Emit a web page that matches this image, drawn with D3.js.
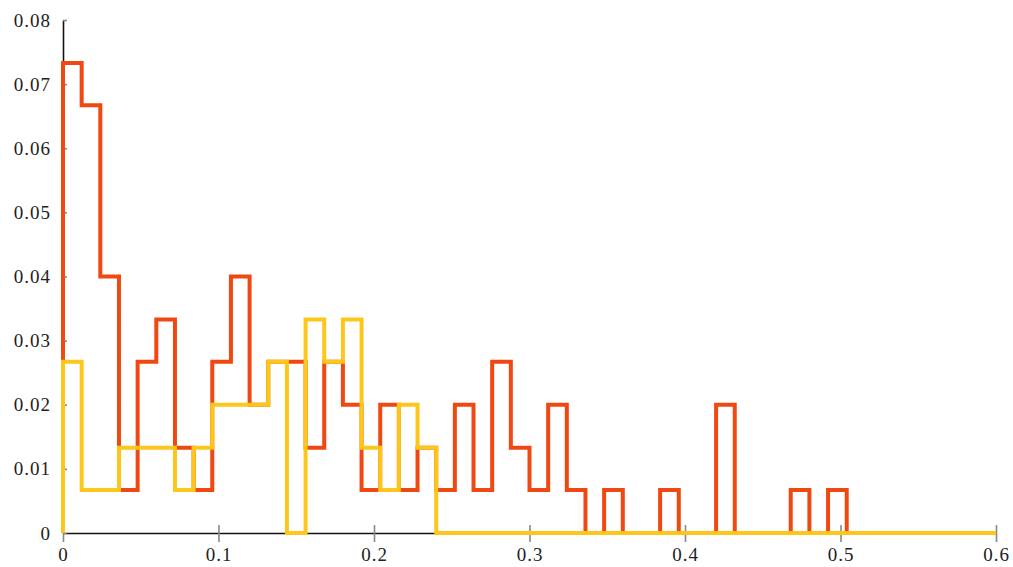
<!DOCTYPE html>
<html>
<head>
<meta charset="utf-8">
<script src="https://cdn.jsdelivr.net/npm/d3@7"></script>
<style>
  html, body { margin: 0; padding: 0; background: #fff; }
  svg { display: block; }
  .tick text { font-family: "Liberation Serif", serif; font-size: 19px; fill: #222; letter-spacing: 1px; }
</style>
</head>
<body>
<svg id="chart" width="1013" height="567"></svg>
<script>
// Histogram bins: width 0.012 from 0 to 0.6 (50 bins)
const binWidth = 0.012;
const xDomain = [0, 0.6];
const yDomain = [0, 0.08];
const xTicks = [0, 0.1, 0.2, 0.3, 0.4, 0.5, 0.6];
const xTickLabels = ["0", "0.1", "0.2", "0.3", "0.4", "0.5", "0.6"];
const yTicks = [0, 0.01, 0.02, 0.03, 0.04, 0.05, 0.06, 0.07, 0.08];
const yTickLabels = ["0", "0.01", "0.02", "0.03", "0.04", "0.05", "0.06", "0.07", "0.08"];

const redSeries = [
  0.0733, 0.0667, 0.0400, 0.0067, 0.0267, 0.0333, 0.0133, 0.0067, 0.0267, 0.0400,
  0.0200, 0.0267, 0.0267, 0.0133, 0.0267, 0.0200, 0.0067, 0.0200, 0.0067, 0.0133,
  0.0067, 0.0200, 0.0067, 0.0267, 0.0133, 0.0067, 0.0200, 0.0067, 0.0000, 0.0067,
  0.0000, 0.0000, 0.0067, 0.0000, 0.0000, 0.0200, 0.0000, 0.0000, 0.0000, 0.0067,
  0.0000, 0.0067, 0.0000, 0.0000, 0.0000, 0.0000, 0.0000, 0.0000, 0.0000, 0.0000
];
const yellowSeries = [
  0.0267, 0.0067, 0.0067, 0.0133, 0.0133, 0.0133, 0.0067, 0.0133, 0.0200, 0.0200,
  0.0200, 0.0267, 0.0000, 0.0333, 0.0267, 0.0333, 0.0133, 0.0067, 0.0200, 0.0133,
  0.0000, 0.0000, 0.0000, 0.0000, 0.0000, 0.0000, 0.0000, 0.0000, 0.0000, 0.0000,
  0.0000, 0.0000, 0.0000, 0.0000, 0.0000, 0.0000, 0.0000, 0.0000, 0.0000, 0.0000,
  0.0000, 0.0000, 0.0000, 0.0000, 0.0000, 0.0000, 0.0000, 0.0000, 0.0000, 0.0000
];

const margin = { left: 63, right: 17, top: 20, bottom: 34 };
const W = 1013, H = 567;
const svg = d3.select("#chart");

const x = d3.scaleLinear().domain(xDomain).range([margin.left, W - margin.right]);
const y = d3.scaleLinear().domain(yDomain).range([H - margin.bottom, margin.top]);

// axes
const xAxis = d3.axisBottom(x).tickValues(xTicks)
  .tickFormat((d, i) => xTickLabels[i]).tickSizeInner(9).tickSizeOuter(0).tickPadding(9);
const yAxis = d3.axisLeft(y).tickValues(yTicks)
  .tickFormat((d, i) => yTickLabels[i]).tickSizeInner(5).tickSizeOuter(0).tickPadding(8);

const gx = svg.append("g").attr("transform", `translate(0,${y(0)})`).call(xAxis);
gx.select(".domain").attr("stroke", "#111").attr("stroke-width", 1.6);
gx.selectAll(".tick line").attr("stroke", "#888").attr("stroke-width", 1.6).attr("y1", d => d === 0 ? 0 : -8);
gx.selectAll(".tick text").attr("dy", "0.55em");

const gy = svg.append("g").attr("transform", `translate(${x(0)},0)`).call(yAxis);
gy.select(".domain").attr("stroke", "#111").attr("stroke-width", 1.6);
gy.selectAll(".tick line").attr("stroke", "#888").attr("stroke-width", 1.6).attr("x2", 4);
gy.selectAll(".tick text").attr("x", -12);

function stepPoints(vals) {
  const pts = [[0, 0]];
  vals.forEach((v, i) => pts.push([i * binWidth, v]));
  pts.push([vals.length * binWidth, vals[vals.length - 1]]);
  pts.push([vals.length * binWidth, 0]);
  return pts;
}

const line = d3.line().x(d => x(d[0])).y(d => y(d[1])).curve(d3.curveStepAfter);

svg.append("path").datum(stepPoints(redSeries))
  .attr("d", line).attr("fill", "none").attr("stroke", "#f04812")
  .attr("stroke-width", 4).attr("stroke-linejoin", "miter");
svg.append("path").datum(stepPoints(yellowSeries))
  .attr("d", line).attr("fill", "none").attr("stroke", "#fdc61b")
  .attr("stroke-width", 4).attr("stroke-linejoin", "miter");
</script>
</body>
</html>
